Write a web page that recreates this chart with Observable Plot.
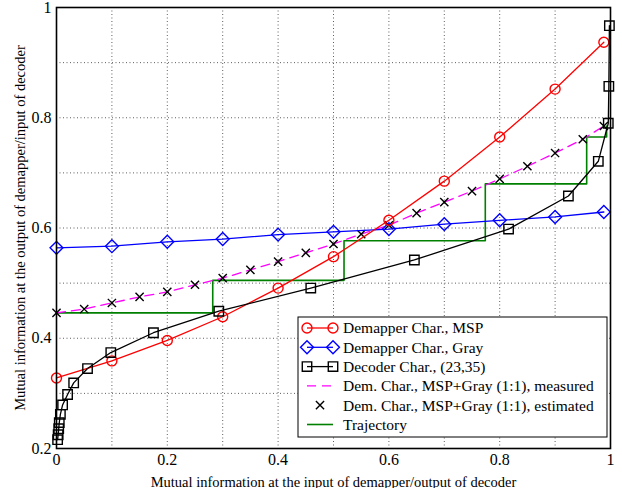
<!DOCTYPE html>
<html><head><meta charset="utf-8">
<script src="https://cdn.jsdelivr.net/npm/d3@7"></script>
<script src="https://cdn.jsdelivr.net/npm/@observablehq/plot@0.6"></script>
<style>
body{margin:0;background:#fff}
svg{display:block}
</style>
</head><body><div id="chart"></div>
<script>
// Demapper characteristic, MSP
const mspX = [0, 0.1, 0.2, 0.3, 0.4, 0.5, 0.6, 0.7, 0.8, 0.9, 0.988];
const mspY = [0.328, 0.359, 0.396, 0.439, 0.491, 0.548, 0.614, 0.685, 0.765, 0.852, 0.937];
// Demapper characteristic, Gray
const grayX = [0, 0.1, 0.2, 0.3, 0.4, 0.5, 0.6, 0.7, 0.8, 0.9, 0.988];
const grayY = [0.564, 0.567, 0.575, 0.580, 0.588, 0.593, 0.598, 0.607, 0.614, 0.620, 0.629];
// Decoder characteristic (23,35)  (x: input of demapper/output of decoder)
const decX = [0.002, 0.003, 0.004, 0.005, 0.007, 0.011, 0.02, 0.031, 0.056, 0.098, 0.175, 0.293, 0.459, 0.646, 0.816, 0.924, 0.978, 0.996, 0.997, 0.998];
const decY = [0.216, 0.225, 0.236, 0.247, 0.262, 0.279, 0.298, 0.319, 0.345, 0.374, 0.41, 0.449, 0.491, 0.542, 0.598, 0.658, 0.721, 0.79, 0.857, 0.967];
// MSP+Gray (1:1), measured (dashed) and estimated (x markers)
const mixX = [0, 0.05, 0.1, 0.15, 0.2, 0.25, 0.3, 0.35, 0.4, 0.45, 0.5, 0.55, 0.6, 0.65, 0.7, 0.75, 0.8, 0.85, 0.9, 0.95, 0.988];
const mixY = [0.446, 0.453, 0.464, 0.475, 0.484, 0.497, 0.509, 0.524, 0.539, 0.555, 0.571, 0.589, 0.605, 0.627, 0.647, 0.667, 0.689, 0.712, 0.736, 0.761, 0.785];
// Trajectory
const trajX = [0, 0.282, 0.282, 0.519, 0.519, 0.774, 0.774, 0.957, 0.957, 0.993, 0.993];
const trajY = [0.446, 0.446, 0.505, 0.505, 0.577, 0.577, 0.68, 0.68, 0.765, 0.765, 0.785];
// Axes
const xTicks = [0, 0.2, 0.4, 0.6, 0.8, 1];
const yTicks = [0.2, 0.4, 0.6, 0.8, 1];
const gridX = [0.1, 0.2, 0.3, 0.4, 0.5, 0.6, 0.7, 0.8, 0.9];
const gridY = [0.3, 0.4, 0.5, 0.6, 0.7, 0.8, 0.9];
const legendLabels = ["Demapper Char., MSP", "Demapper Char., Gray", "Decoder Char., (23,35)", "Dem. Char., MSP+Gray (1:1), measured", "Dem. Char., MSP+Gray (1:1), estimated", "Trajectory"];

const zip = (xs, ys) => xs.map((x, i) => ({x, y: ys[i]}));
const msp = zip(mspX, mspY), gray = zip(grayX, grayY), dec = zip(decX, decY),
      mix = zip(mixX, mixY), traj = zip(trajX, trajY);
const fmt = d => String(+d.toFixed(1));
const FONT = "'Liberation Serif', 'Times New Roman', serif";

const plot = Plot.plot({
  width: 622, height: 488,
  marginLeft: 56, marginRight: 12, marginTop: 7, marginBottom: 40,
  style: {fontFamily: FONT, fontSize: "15px", background: "#fff", color: "#000"},
  x: {domain: [0, 1]},
  y: {domain: [0.2, 1]},
  marks: [
    Plot.gridX(gridX, {stroke: "#000", strokeOpacity: 0.8, strokeWidth: 0.8, strokeDasharray: "1,2.5"}),
    Plot.gridY(gridY, {stroke: "#000", strokeOpacity: 0.8, strokeWidth: 0.8, strokeDasharray: "1,2.5"}),
    Plot.axisX(xTicks, {tickFormat: fmt, tickSize: 0, tickPadding: 5, fontSize: 16,
      label: "Mutual information at the input of demapper/output of decoder", labelAnchor: "center", labelOffset: 38, labelArrow: "none"}),
    Plot.axisY(yTicks, {tickFormat: fmt, tickSize: 0, tickPadding: 5, fontSize: 16,
      label: "Mutual information at the output of demapper/input of decoder", labelAnchor: "center", labelOffset: 42, labelArrow: "none"}),
    Plot.line(traj, {x: "x", y: "y", stroke: "#008000", strokeWidth: 1.6}),
    Plot.line(mix, {x: "x", y: "y", stroke: "#ff00ff", strokeWidth: 1.3, strokeDasharray: "9,6"}),
    Plot.dot(mix, {x: "x", y: "y", symbol: "times", r: 3.8, stroke: "#000", strokeWidth: 1.4}),
    Plot.line(gray, {x: "x", y: "y", stroke: "#0000ff", strokeWidth: 1.3}),
    Plot.dot(gray, {x: "x", y: "y", symbol: "diamond2", r: 5.8, stroke: "#0000ff", strokeWidth: 1.4, fill: "none"}),
    Plot.line(msp, {x: "x", y: "y", stroke: "#ff0000", strokeWidth: 1.3}),
    Plot.dot(msp, {x: "x", y: "y", symbol: "circle", r: 5, stroke: "#ff0000", strokeWidth: 1.4, fill: "none"}),
    Plot.line(dec, {x: "x", y: "y", stroke: "#000", strokeWidth: 1.3}),
    Plot.dot(dec, {x: "x", y: "y", symbol: "square2", r: 6, stroke: "#000", strokeWidth: 1.4, fill: "none"}),
    Plot.frame({stroke: "#000", strokeWidth: 1.6})
  ]
});
document.getElementById("chart").appendChild(plot);

// force serif fonts and sizes on axis texts
d3.select(plot).selectAll("g[aria-label$='tick label'] text")
  .style("font-family", FONT).style("font-size", "16px");
d3.select(plot).selectAll("g[aria-label$='label']:not([aria-label$='tick label']) text")
  .style("font-family", FONT).style("font-size", "14.5px");

// Legend box inside the plot
const svg = d3.select(plot);
const lx = 298, ly = 317, lw = 309, lh = 120, rowH = 19.3;
const g = svg.append("g").attr("font-family", FONT).attr("font-size", 15.5).attr("text-anchor", "start");
g.append("rect").attr("x", lx).attr("y", ly).attr("width", lw).attr("height", lh)
  .attr("fill", "#fff").attr("stroke", "#000").attr("stroke-width", 1);
const styles = [
  {stroke: "#ff0000", sym: d3.symbolCircle, r: 5},
  {stroke: "#0000ff", sym: d3.symbolDiamond2, r: 5.8},
  {stroke: "#000", sym: d3.symbolSquare2, r: 6},
  {stroke: "#ff00ff", sym: null, dash: "9,6"},
  {stroke: "#000", sym: d3.symbolTimes, r: 3.8, noLine: true},
  {stroke: "#008000", sym: null, w: 1.6}
];
legendLabels.forEach((label, i) => {
  const cy = ly + 11 + i * rowH;
  const s = styles[i];
  const x1 = lx + 9, x2 = lx + 35;
  if (!s.noLine) {
    g.append("line").attr("x1", x1).attr("x2", x2).attr("y1", cy).attr("y2", cy)
      .attr("stroke", s.stroke).attr("stroke-width", s.w || 1.3)
      .attr("stroke-dasharray", s.dash || null);
  }
  if (s.sym) {
    const path = d3.symbol(s.sym, Math.PI * s.r * s.r)();
    const pts = s.noLine ? [(x1 + x2) / 2] : [x1, x2];
    pts.forEach(px => g.append("path").attr("d", path)
      .attr("transform", `translate(${px},${cy})`)
      .attr("fill", "none").attr("stroke", s.stroke).attr("stroke-width", 1.4));
  }
  g.append("text").attr("x", lx + 45).attr("y", cy).attr("dy", "0.35em")
    .style("font-family", FONT).text(label);
});
</script>
</body></html>
